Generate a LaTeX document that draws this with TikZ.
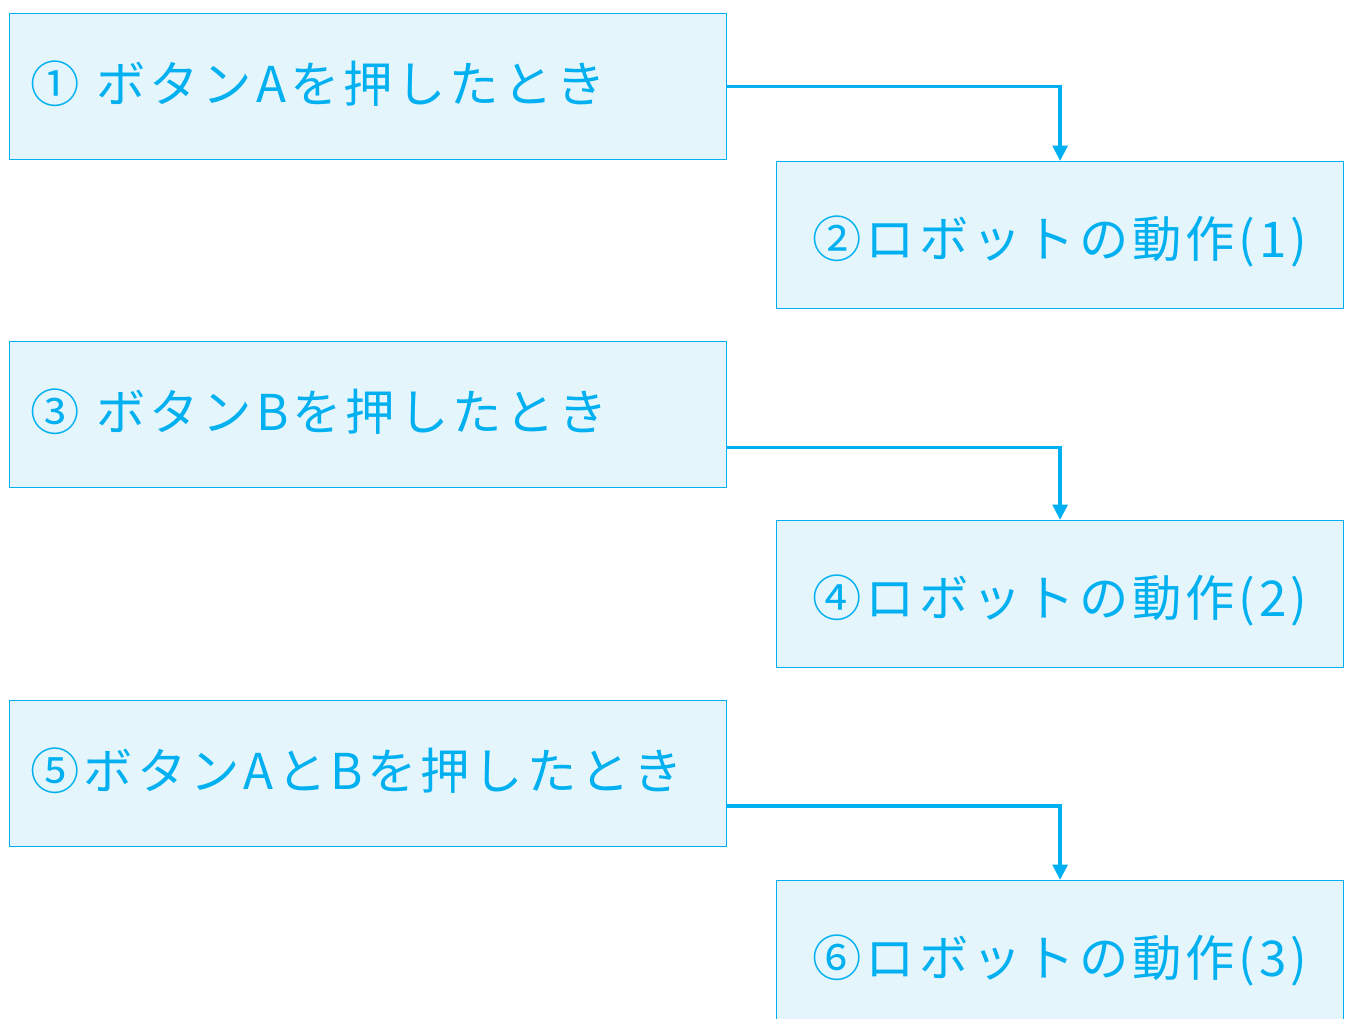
\documentclass[tikz,border=0pt]{standalone}
\usepackage{fontspec}
\newfontfamily\jp{Noto Sans CJK JP}[LetterSpace=8]
\usetikzlibrary{arrows.meta,calc}
\definecolor{cline}{HTML}{00B0F0}
\definecolor{cfill}{HTML}{E4F5FC}
\newcommand{\upt}[1]{\raisebox{2.5pt}[\height][\depth]{#1}}
\newcommand{\dnt}[1]{\raisebox{-4.5pt}[\height][\depth]{#1}}
\begin{document}
\begin{tikzpicture}[x=0.75pt,y=-0.75pt,
  box/.style={draw=cline, fill=cfill, line width=0.9pt, rectangle, anchor=north west,
    inner ysep=0pt, text=cline, font=\jp\fontsize{37pt}{42pt}\selectfont},
  lbox/.style={box, minimum width=537.75pt, minimum height=109.5pt,
    inner xsep=15.75pt, text width=506.25pt, align=left},
  rbox/.style={box, minimum width=425.25pt, minimum height=110.25pt,
    inner xsep=6pt, text width=413.25pt, align=center},
  conn/.style={draw=cline, line width=2.6pt, -{Triangle[width=11pt,length=11.5pt]}}]
\clip (0,0) rectangle (1348,1019);
\node[lbox] (b1) at (9,13) {\upt{① ボタンAを押したとき}};
\node[rbox] (b2) at (776,161) {\dnt{②ロボットの動作(1)}};
\node[lbox] (b3) at (9,341) {\upt{③ ボタンBを押したとき}};
\node[rbox] (b4) at (776,520) {\dnt{④ロボットの動作(2)}};
\node[lbox] (b5) at (9,700) {\upt{⑤ボタンAとBを押したとき}};
\node[rbox] (b6) at (776,880) {\dnt{⑥ロボットの動作(3)}};
\draw[conn] (b1.east) -| (b2.north);
\draw[conn] ($(b3.east)+(0,33)$) -| (b4.north);
\draw[conn] ($(b5.east)+(0,32.5)$) -| (b6.north);
\end{tikzpicture}
\end{document}
